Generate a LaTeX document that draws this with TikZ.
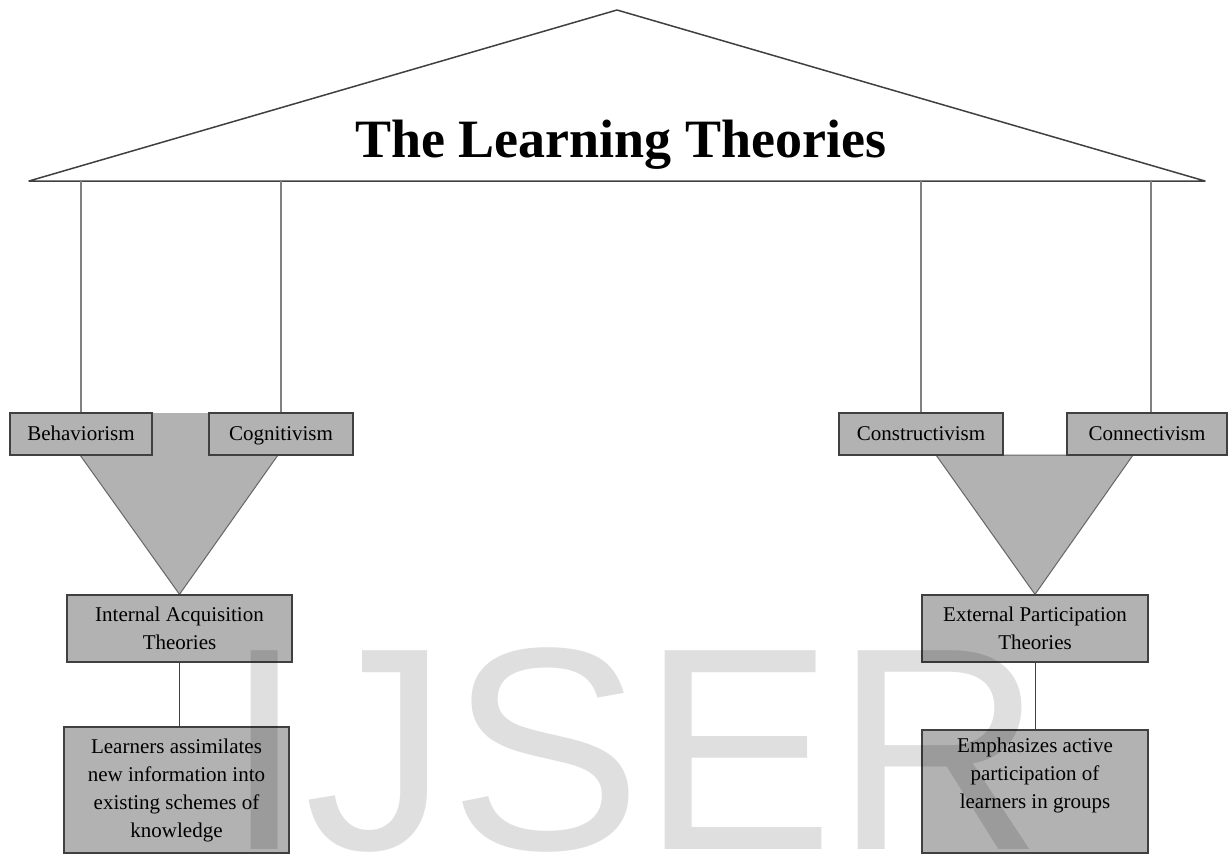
\documentclass[tikz,border=0pt]{standalone}
\usepackage{fontspec}
\setmainfont{Liberation Serif}
\newfontfamily\wmfont{Liberation Sans}
\usepackage{xcolor}
\usetikzlibrary{positioning,calc,backgrounds}

\definecolor{boxgray}{RGB}{178,178,178}
\definecolor{boxline}{RGB}{64,64,64}
\definecolor{stemgray}{RGB}{128,128,128}

\begin{document}
\begin{tikzpicture}[
    x=1pt, y=-1pt,
    box/.style={rectangle, draw=boxline, fill=boxgray, line width=1.3pt, inner sep=0pt, align=center, font=\fontsize{21}{28}\selectfont},
    theory/.style={box, minimum height=42pt, text height=14pt, text depth=2pt},
    stem/.style={draw=stemgray, line width=1.8pt},
    link/.style={draw=boxline, line width=1pt},
    funnel/.style={fill=boxgray, draw=none},
    funneledge/.style={draw=boxline!80, line width=1pt, line join=miter}
]
    \useasboundingbox (0,0) rectangle (1228,854);

    \coordinate (apex) at (617,10);
    \coordinate (roofL) at (29,181);
    \coordinate (roofR) at (1205,181);
    \draw[boxline, line width=1.5pt, line join=round] (roofL) -- (apex) -- (roofR) -- cycle;
    \node[font=\fontsize{54}{60}\selectfont\bfseries, anchor=base, inner sep=0pt] (title) at (620.5,157) {The Learning Theories};

    \node[theory, minimum width=142pt] (behav) at (81,434) {Behaviorism};
    \node[theory, minimum width=144pt] (cogn) at (281,434) {Cognitivism};
    \node[theory, minimum width=164pt] (constr) at (921,434) {Constructivism};
    \node[theory, minimum width=160pt] (connect) at (1147,434) {Connectivism};

    \node[box, minimum width=225pt, minimum height=67pt] (internal) at (179.5,628.5) {Internal Acquisition\\Theories};
    \node[box, minimum width=226pt, minimum height=67pt] (external) at (1035,628.5) {External Participation\\Theories};

    \node[box, minimum width=225pt, minimum height=126pt] (learners) at (176.5,790) {Learners assimilates\\new information into\\existing schemes of\\knowledge};
    \node[box, minimum width=226pt, minimum height=123pt] (emph) at (1035,791.5) {};
    \node[font=\fontsize{21}{28}\selectfont, align=center, inner sep=0pt, anchor=north] (emphtext) at ([yshift=-8.7pt]emph.north) {Emphasizes active\\participation of\\learners in groups};

    \begin{scope}[on background layer]
        \fill[funnel] (80,455) -- (152,455) -- (152,413) -- (209,413) -- (209,455) -- (278,455) -- (internal.north) -- cycle;
        \draw[funneledge] (80,455) -- (internal.north) -- (278,455);
        \filldraw[funnel, funneledge] (936,455) -- (1133,455) -- (external.north) -- cycle;
    \end{scope}

    \draw[stem] (behav.north) -- (behav.north |- roofL);
    \draw[stem] (cogn.north) -- (cogn.north |- roofL);
    \draw[stem] (constr.north) -- (constr.north |- roofL);
    \draw[stem] ([xshift=4pt]connect.north) -- ([xshift=4pt]connect.north |- roofL);
    \draw[link] (internal.south) -- (internal.south |- learners.north);
    \draw[link] (external.south) -- (external.south |- emph.north);

    \node[font=\wmfont\fontsize{289}{289}\selectfont, text=black, text opacity=0.125, anchor=base west, inner sep=0pt] (mark) at (224,849) {IJSER};
\end{tikzpicture}
\end{document}
